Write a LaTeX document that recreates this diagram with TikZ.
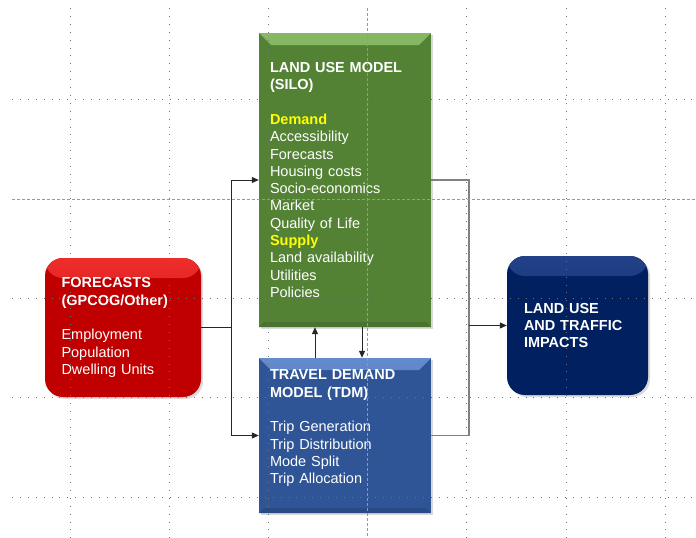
\documentclass[tikz,border=0pt]{standalone}
\usepackage{fontspec}
\setmainfont{Liberation Sans}
\usetikzlibrary{arrows.meta,positioning,shadows}

\definecolor{silomain}{RGB}{84,130,53}
\definecolor{silotop}{RGB}{135,185,100}
\definecolor{tdmmain}{RGB}{47,85,151}
\definecolor{tdmtop}{RGB}{100,140,205}
\definecolor{fcmain}{RGB}{192,0,0}
\definecolor{fctop}{RGB}{238,45,45}
\definecolor{impmain}{RGB}{0,32,96}
\definecolor{imptop}{RGB}{35,65,135}
\definecolor{hlyellow}{RGB}{255,255,0}

\begin{document}
\begin{tikzpicture}[x=1pt, y=-1pt,
  font=\fontsize{14.5}{17.3}\selectfont,
  modelbox/.style={rectangle, fill=#1main, text=white, align=left, inner xsep=11pt, inner ysep=0pt,
    text width=150pt, minimum width=172pt,
    drop shadow={shadow xshift=2pt, shadow yshift=-2pt, opacity=0.3},
    path picture={
      \shade[top color=#1top, bottom color=#1main] (path picture bounding box.north west)
        -- (path picture bounding box.north east) -- ([shift={(-12pt,-12pt)}]path picture bounding box.north east)
        -- ([shift={(12pt,-12pt)}]path picture bounding box.north west) -- cycle;
      \fill[#1main!88!black] (path picture bounding box.south west)
        -- (path picture bounding box.south east) -- ([shift={(-5pt,5pt)}]path picture bounding box.south east)
        -- ([shift={(5pt,5pt)}]path picture bounding box.south west) -- cycle;
    }},
  roundbox/.style={rectangle, rounded corners=18pt, fill=#1main, text=white, align=left, inner ysep=0pt,
    drop shadow={shadow xshift=2pt, shadow yshift=-2pt, opacity=0.3},
    path picture={
      \shade[top color=#1top, bottom color=#1main] (path picture bounding box.north west)
        rectangle ([yshift=-20pt]path picture bounding box.north east);
    }},
  arrow/.style={-{Triangle[length=7pt,width=6pt]}, line width=1pt, black!85},
  gline/.style={line width=1.3pt, black!50},
  gridline/.style={black!55, line width=0.7pt, dash pattern=on 0.9pt off 7pt},
  midline/.style={black!40, line width=0.6pt, dash pattern=on 3pt off 2pt}]

\useasboundingbox (0,0) rectangle (696,538);

% boxes
\node[modelbox=silo, minimum height=294pt] (silo) at (345,180)
  {\textbf{LAND USE MODEL}\\\textbf{(SILO)}\\[17.3pt]
   \textcolor{hlyellow}{\textbf{Demand}}\\Accessibility\\Forecasts\\Housing costs\\Socio-economics\\Market\\Quality of Life\\
   \textcolor{hlyellow}{\textbf{Supply}}\\Land availability\\Utilities\\Policies};
\node[modelbox=tdm, minimum height=155pt] (tdm) at (345,435.5)
  {\textbf{TRAVEL DEMAND}\\\textbf{MODEL (TDM)}\\[17.3pt]
   Trip Generation\\Trip Distribution\\Mode Split\\Trip Allocation\\\mbox{}};
\node[roundbox=fc, inner xsep=16.5pt, text width=123pt, minimum width=156pt, minimum height=139pt] (fc) at (123,327.5)
  {\textbf{FORECASTS}\\\textbf{(GPCOG/Other)}\\[17.3pt]
   Employment\\Population\\Dwelling Units};
\node[roundbox=imp, inner xsep=17pt, text width=107pt, minimum width=141pt, minimum height=139pt] (imp) at (577.5,325.5)
  {\textbf{LAND USE}\\\textbf{AND TRAFFIC}\\\textbf{IMPACTS}};

% connectors
\coordinate (mrg) at (469,325.5);
\draw[arrow] (fc.east) -- ++(30pt,0pt) |- (silo.west);
\draw[arrow] (fc.east) -- ++(30pt,0pt) |- (tdm.west);
\draw[gline] (silo.east) -| (mrg) |- (tdm.east);
\draw[arrow] (mrg) -- (imp.west);
\draw[arrow] ([xshift=-30pt]tdm.north) -- ([xshift=-30pt]silo.south);
\draw[arrow] ([xshift=17pt]silo.south) -- ([xshift=17pt]tdm.north);

% grid
\foreach \gx in {70,169,268,466,566,665}
  \draw[gridline] (\gx,8) -- (\gx,538);
\foreach \gy in {99,298,397,497}
  \draw[gridline] (12,\gy) -- (696,\gy);
\draw[midline] (367,8) -- (367,538);
\draw[midline] (12,199) -- (696,199);

\end{tikzpicture}
\end{document}
